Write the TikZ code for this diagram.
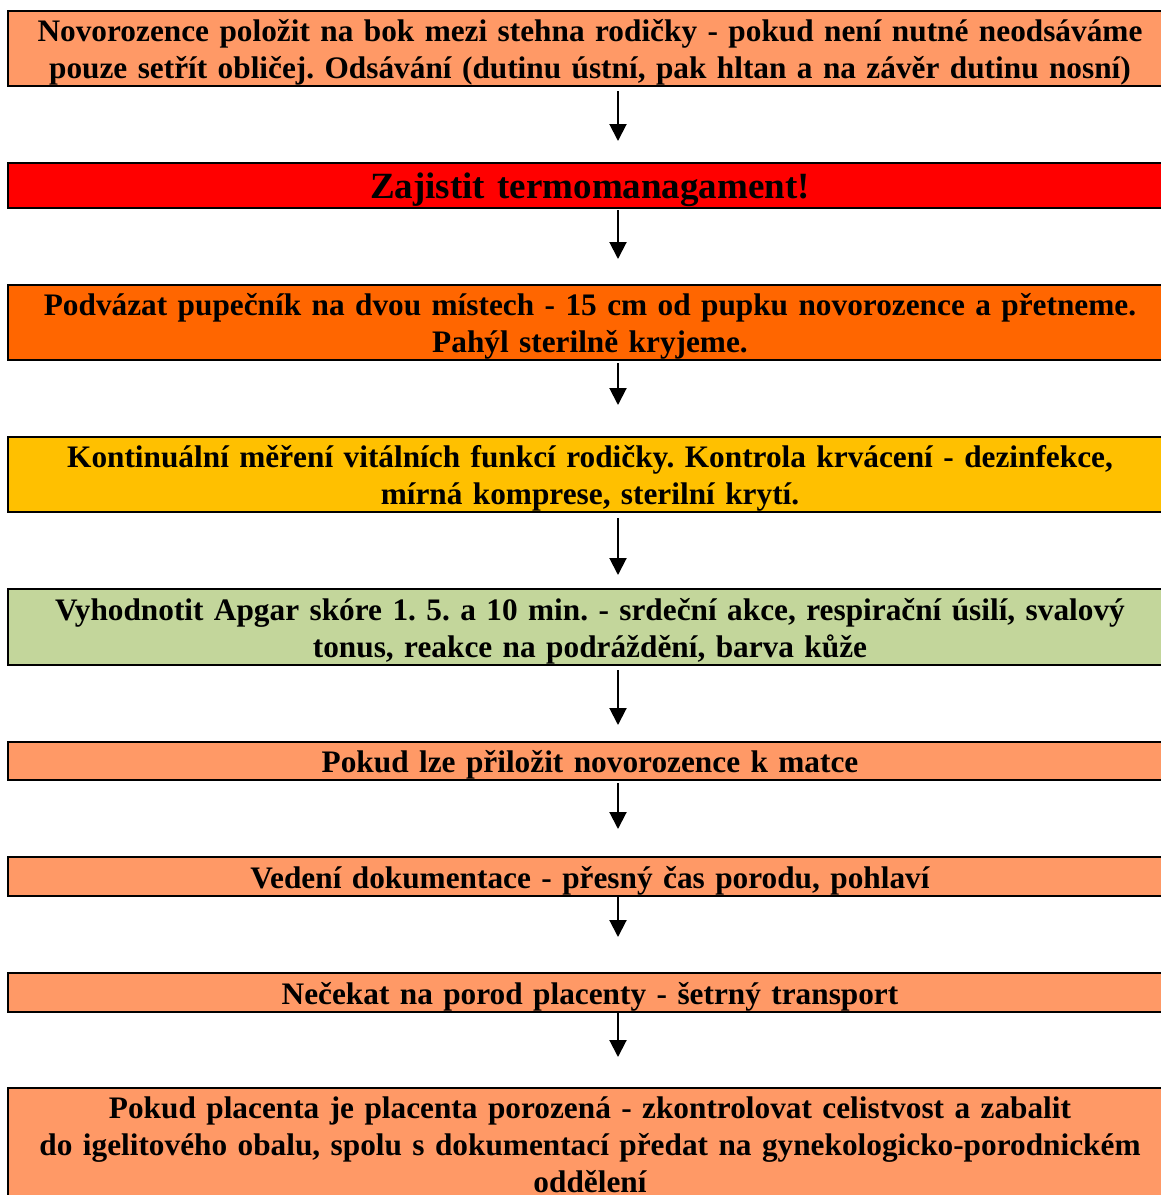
\documentclass[tikz,border=0pt]{standalone}
\usepackage{fontspec}
\setmainfont{Liberation Serif}
\usetikzlibrary{arrows.meta,calc}
\definecolor{peach}{HTML}{FF9966}
\definecolor{redbox}{HTML}{FF0000}
\definecolor{darkorange}{HTML}{FF6600}
\definecolor{amber}{HTML}{FFC000}
\definecolor{olivegreen}{HTML}{C3D69B}
\tikzset{
  flowbox/.style={draw=black, line width=2pt, rectangle, inner sep=0pt,
    minimum width=1164pt},
  flowtext/.style={inner sep=0pt, text width=1160pt, align=center,
    font=\fontsize{31.3}{37}\selectfont\bfseries\frenchspacing},
  flowarrow/.style={line width=2pt, -{Triangle[width=17pt,length=17pt]}}
}
\begin{document}
\begin{tikzpicture}[x=1pt,y=-1pt]
\useasboundingbox (0,0) rectangle (1161,1195);
\begin{scope}
\clip (0,0) rectangle (1161,1195);
\node[flowbox, fill=peach, minimum height=75pt] (b1) at (590,48.5) {};
\node[flowtext] (t1) at ([yshift=-4pt]b1.center)
  {Novorozence položit na bok mezi stehna rodičky - pokud není nutné neodsáváme\\pouze setřít obličej. Odsávání (dutinu ústní, pak hltan a na závěr dutinu nosní)};
\node[flowbox, fill=redbox, minimum height=45pt] (b2) at (590,185.5) {};
\node[flowtext, font=\fontsize{37}{42}\selectfont\bfseries] (t2) at ([yshift=-4pt]b2.center)
  {Zajistit termomanagament!};
\node[flowbox, fill=darkorange, minimum height=75pt] (b3) at (590,322.5) {};
\node[flowtext] (t3) at ([yshift=-4pt]b3.center)
  {Podvázat pupečník na dvou místech - 15 cm od pupku novorozence a přetneme.\\Pahýl sterilně kryjeme.};
\node[flowbox, fill=amber, minimum height=75pt] (b4) at (590,474.5) {};
\node[flowtext] (t4) at ([yshift=-4pt]b4.center)
  {Kontinuální měření vitálních funkcí rodičky. Kontrola krvácení - dezinfekce,\\mírná komprese, sterilní krytí.};
\node[flowbox, fill=olivegreen, minimum height=76pt] (b5) at (590,627) {};
\node[flowtext] (t5) at ([yshift=-4pt]b5.center)
  {Vyhodnotit Apgar skóre 1. 5. a 10 min. - srdeční akce, respirační úsilí, svalový\\tonus, reakce na podráždění, barva kůže};
\node[flowbox, fill=peach, minimum height=38pt] (b6) at (590,761) {};
\node[flowtext] (t6) at ([yshift=-4pt]b6.center)
  {Pokud lze přiložit novorozence k matce};
\node[flowbox, fill=peach, minimum height=39pt] (b7) at (590,876.5) {};
\node[flowtext] (t7) at ([yshift=-4pt]b7.center)
  {Vedení dokumentace - přesný čas porodu, pohlaví};
\node[flowbox, fill=peach, minimum height=39pt] (b8) at (590,992.5) {};
\node[flowtext] (t8) at ([yshift=-4pt]b8.center)
  {Nečekat na porod placenty - šetrný transport};
\node[flowbox, fill=peach, minimum height=114pt] (b9) at (590,1145) {};
\node[flowtext] (t9) at (b9.center)
  {Pokud placenta je placenta porozená - zkontrolovat celistvost a zabalit\\do igelitového obalu, spolu s dokumentací předat na gynekologicko-porodnickém\\oddělení};
\end{scope}
\coordinate (ax) at (618,0);
\draw[flowarrow] ($(b1.south -| ax)+(0,4)$) -- ($(b2.north -| ax)+(0,-21)$);
\draw[flowarrow] ($(b2.south -| ax)+(0,1)$) -- ($(b3.north -| ax)+(0,-25)$);
\draw[flowarrow] ($(b3.south -| ax)+(0,2)$) -- ($(b4.north -| ax)+(0,-31)$);
\draw[flowarrow] ($(b4.south -| ax)+(0,5)$) -- ($(b5.north -| ax)+(0,-13)$);
\draw[flowarrow] ($(b5.south -| ax)+(0,4)$) -- ($(b6.north -| ax)+(0,-16)$);
\draw[flowarrow] ($(b6.south -| ax)+(0,2)$) -- ($(b7.north -| ax)+(0,-27)$);
\draw[flowarrow] ($(b7.south -| ax)+(0,0)$) -- ($(b8.north -| ax)+(0,-35)$);
\draw[flowarrow] ($(b8.south -| ax)+(0,0)$) -- ($(b9.north -| ax)+(0,-30)$);
\end{tikzpicture}
\end{document}
